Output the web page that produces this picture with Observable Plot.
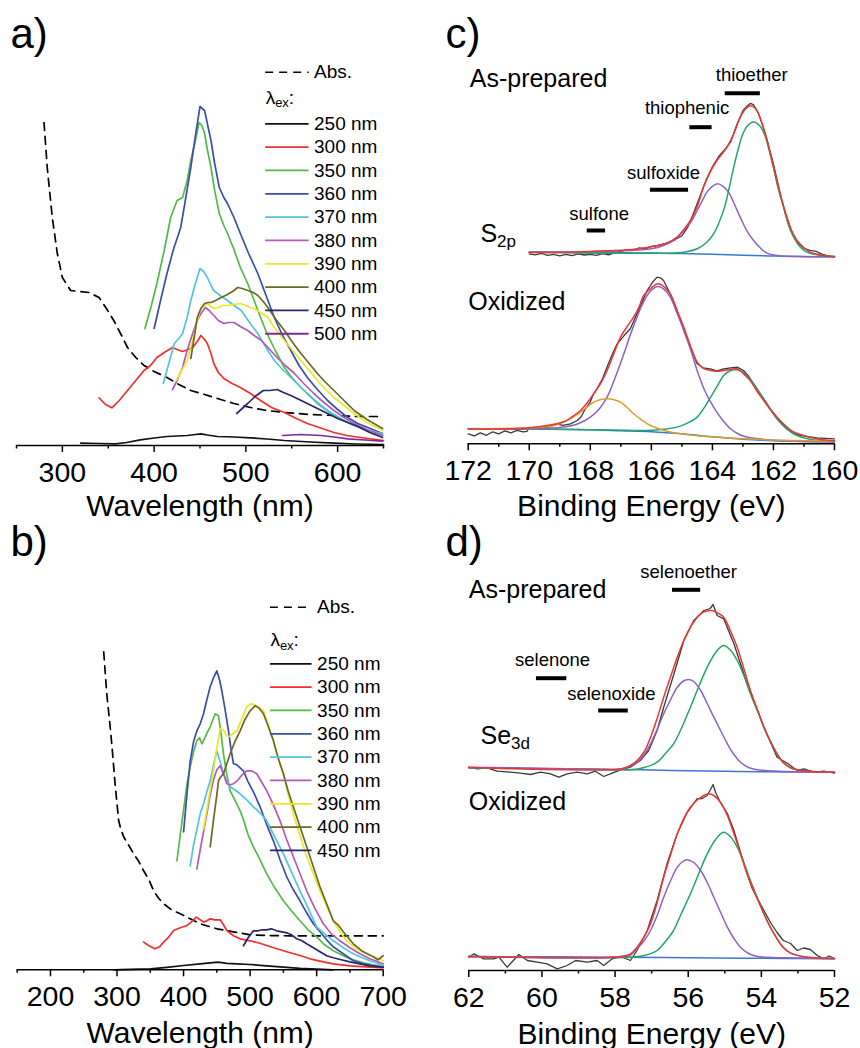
<!DOCTYPE html>
<html><head><meta charset="utf-8">
<script src="https://cdn.jsdelivr.net/npm/d3@7"></script>
<script src="https://cdn.jsdelivr.net/npm/@observablehq/plot@0.6"></script>
<style>
body{margin:0;background:#fff;}
#fig{position:relative;width:860px;height:1048px;overflow:hidden;background:#fff;}
#fig svg{position:absolute;}
</style></head><body><div id="fig"></div>
<script>
// ---------------- Panel a: PL spectra (wavelength nm, intensity a.u.) ----------------
const absA = [[280,323],[283.5,278],[289,228],[294.5,192],[300,168],[309,155],[319,154],[329,153],[340,148],[348,137],[356,125],[364,111],[371,98],[380,88],[389,80],[400,74],[414,68],[427,61],[440,55],[455,51],[469,47],[487,42],[505,38],[523,35],[542,33],[570,31],[596,30],[620,29],[645,29]];
const a250 = [[320,2.3],[340,2],[358,1.7],[370,3],[385,5.7],[400,7.5],[414,9],[425,9.5],[436,10],[445,11],[451,11.7],[458,10.5],[469,9],[487,8.5],[505,7.7],[523,6.5],[542,5],[570,3.5],[596,2.3],[620,1.5],[650,1]];
const a300 = [[340,47.7],[347,41],[354,37.7],[362,45],[371,55],[380,65],[389,75],[396,80],[403,88],[411,93],[420,98],[425,96],[431,94],[437,96],[442,98],[447,104],[451,110],[455,106],[458,102],[462,92],[465,82],[470,73],[476,67],[485,62],[494,58],[505,52],[516,45],[528,38],[542,33],[555,27],[567,22],[580,18],[596,13],[610,10],[625,8],[650,5]];
const a350 = [[390,117],[397,140],[403,162],[411,195],[418,228],[425,245],[431,248],[436,265],[440,285],[445,305],[449,323],[452,320],[455,312],[458,296],[462,278],[466,255],[471,232],[476,220],[480,212],[487,196],[494,178],[502,162],[509,145],[516,128],[523,112],[532,95],[542,78],[550,68],[560,58],[569,50],[578,42],[587,36],[596,30],[607,25],[618,20],[632,15],[649,10]];
const a360 = [[400,117],[407,145],[414,172],[421,196],[429,218],[434,245],[440,278],[445,310],[450,339],[455,335],[458,322],[462,305],[466,282],[471,258],[476,248],[480,242],[487,228],[494,212],[503,192],[513,172],[522,150],[531,128],[540,110],[549,95],[558,80],[567,68],[578,56],[589,45],[600,36],[611,28],[622,22],[633,18],[649,12]];
const a370 = [[410,62],[416,82],[422,102],[427,107],[431,112],[436,128],[440,145],[445,162],[450,177],[454,174],[458,168],[462,160],[465,155],[472,150],[480,145],[487,140],[495,135],[504,123],[513,112],[522,98],[531,85],[540,76],[549,68],[558,60],[567,52],[578,43],[589,35],[600,29],[611,23],[622,19],[633,15],[649,12]];
const a380 = [[420,56],[425,65],[431,78],[436,95],[442,112],[447,125],[451,132],[456,138],[460,135],[465,130],[470,125],[476,122],[481,123],[487,123],[494,119],[502,115],[509,110],[517,105],[525,97],[534,88],[543,80],[553,72],[563,62],[574,52],[585,43],[596,35],[607,28],[618,22],[632,16],[649,10]];
const a390 = [[424,65],[430,75],[436,85],[442,105],[447,125],[451,137],[455,140],[458,142],[462,139],[465,137],[470,138],[475,140],[480,140],[487,141],[494,142],[500,140],[505,138],[509,137],[516,133],[524,128],[532,117],[542,105],[551,95],[560,85],[569,75],[578,65],[587,56],[596,48],[607,40],[618,32],[632,23],[649,15]];
const a400 = [[440,87],[444,110],[447,128],[451,137],[455,142],[459,143],[462,143],[467,145],[473,148],[480,151],[487,155],[491,158],[496,157],[502,155],[508,153],[513,150],[518,145],[524,138],[532,127],[542,115],[551,103],[560,92],[569,82],[578,72],[587,63],[596,55],[607,45],[618,35],[632,26],[649,17]];
const a450 = [[490,32],[496,37],[502,42],[510,49],[519,55],[526,55],[534,56],[541,53],[549,50],[558,46],[567,42],[578,37],[589,32],[600,27],[611,23],[622,19],[635,13],[649,8]];
const a500 = [[540,10],[550,10.5],[560,11],[570,10.5],[582,10],[596,8.5],[611,6.7],[630,5.5],[649,4.3]];
const seriesA = [a250,a300,a350,a360,a370,a380,a390,a400,a450,a500];
const labelsA = ["250 nm","300 nm","350 nm","360 nm","370 nm","380 nm","390 nm","400 nm","450 nm","500 nm"];

// ---------------- Panel b ----------------
const absB = [[280,318],[282.5,295],[285,273],[289,248],[292.5,223],[297.5,183],[302.5,149],[306,140],[310,133],[318,124],[325,116],[333,108],[340,99],[348,90],[355,79],[362,72],[370,66],[382,60],[395,56],[410,51],[425,46],[450,41],[475,38],[500,35],[525,34.3],[560,34],[600,34],[650,34],[700,34]];
const b250 = [[295,0],[320,0.5],[350,1],[375,2.5],[400,4.3],[425,6],[440,7],[452,7.7],[465,6.5],[480,6],[500,5.3],[525,4],[550,2.7],[575,1.5],[600,0.7],[625,0]];
const b300 = [[340,27.7],[348,24],[357,21],[364,23],[370,27.7],[378,33],[385,39.3],[395,42],[405,44.3],[412,48],[419,52.7],[425,50],[430,47.7],[435,49],[440,51],[447,50],[455,50],[460,45],[465,39.3],[475,34],[485,31],[500,29],[512,27],[525,24.3],[540,21],[555,18],[575,14.3],[590,11],[610,8],[625,6],[650,4],[675,3],[700,2]];
const b350 = [[390,109],[395,135],[400,160],[405,185],[410,203],[415,218],[420,229],[424,232],[427.5,226],[432,232],[436,238],[440,243],[444,250],[447.5,256],[452.5,254],[456,238],[460,216],[465,195],[470,179],[477,170],[485,159],[490,150],[497,135],[505,123],[515,110],[525,96],[537,82],[550,69],[562,59],[575,49],[587,40],[600,33],[612,25],[625,19],[640,14],[655,10],[670,7],[685,5],[700,3]];
const b360 = [[400,138],[405,175],[410,209],[415,228],[420,239],[425,246],[430,256],[435,270],[440,283],[445,292],[450,299],[454,290],[457.5,279],[462,262],[467.5,239],[471,222],[475,206],[480,205],[485,202],[490,199],[497,188],[505,178],[515,163],[525,145],[535,129],[545,110],[555,93],[565,80],[575,69],[585,57],[595,46],[605,38],[615,30],[625,23],[640,16],[655,9],[670,6],[685,4],[700,2.7]];
const b370 = [[410,104],[415,125],[420,140],[425,156],[430,166],[435,178],[440,189],[445,205],[450,219],[455,208],[460,196],[465,189],[470,183],[477,180],[485,176],[495,170],[505,163],[515,157],[525,149],[537,133],[550,116],[562,98],[575,79],[587,62],[600,43],[612,36],[625,29],[640,22],[655,16],[665,13],[680,9],[700,4.3]];
const b380 = [[420,101],[425,120],[430,138],[435,156],[440,175],[445,190],[450,200],[455,204],[460,196],[465,186],[470,185],[475,186],[482,190],[488,195],[495,199],[502,199],[510,196],[517,188],[525,179],[535,165],[545,149],[555,130],[565,113],[575,96],[585,79],[597,62],[610,46],[622,36],[635,29],[650,22],[665,16],[680,11],[700,6]];
const b390 = [[430,141],[435,160],[440,180],[445,199],[450,222],[455,241],[460,240],[464,235],[467.5,233],[472,235],[476,237],[480,239],[487,250],[495,263],[501,266],[507.5,265],[513,262],[520,259],[527,245],[535,229],[542,212],[550,196],[557,176],[565,156],[575,134],[585,113],[595,96],[605,79],[615,64],[625,49],[635,38],[645,29],[660,21],[675,16],[690,12],[700,9]];
const b400 = [[440,123],[445,150],[450,175],[452.5,189],[456,193],[460,196],[465,206],[470,216],[477,228],[485,239],[492,250],[500,259],[507.5,264],[513,262],[520,256],[527,244],[535,229],[542,212],[550,196],[557,179],[565,163],[575,143],[585,123],[595,103],[605,83],[615,66],[625,49],[632,45],[640,38],[655,26],[670,18],[685,13],[692,10],[700,14]];
const b450 = [[490,24],[497,32],[505,39],[512,39],[518,40],[525,40],[532,41],[540,39],[548,38],[555,37],[562,35],[570,31],[578,29],[585,26],[595,22],[605,18],[615,14],[625,12],[637,10],[650,8],[665,6],[680,4],[700,2.7]];
const seriesB = [b250,b300,b350,b360,b370,b380,b390,b400,b450];
const labelsB = ["250 nm","300 nm","350 nm","360 nm","370 nm","380 nm","390 nm","400 nm","450 nm"];

const exColors = ["#111111","#f2302b","#55b848","#3a4fa8","#52c5dc","#b35ab8","#ece62a","#6b6a25","#27276f","#7b2a96"];

// ---------------- Panel c: S2p XPS (binding energy eV, counts a.u.) ----------------
const cAsBase = [[170,191.7],[168,191.3],[166,190.7],[165,190.2],[164,189.5],[163,188.6],[162,187.8],[161,187.3],[160,187]];
const cAsPurple = [[170,191.5],[168,192],[166.7,193.3],[166,195],[165.6,198.3],[165.2,205],[164.94,213.3],[164.7,222],[164.5,233.3],[164.3,245],[164.18,251.7],[164.0,257.5],[163.83,260],[163.65,257.5],[163.47,251.7],[163.3,241],[163.09,226.7],[162.87,213],[162.65,203.3],[162.4,195],[162.21,190.7],[161.8,188],[161.23,187.3],[160,187]];
const cAsGreen = [[170,191.5],[166,190.5],[165,191.3],[164.5,195],[164.2,201],[163.96,210],[163.8,220],[163.6,236.7],[163.45,256],[163.3,276.7],[163.15,295],[163.0,310],[162.85,318],[162.65,321.7],[162.45,318],[162.3,310],[162.15,295],[162.0,276.7],[161.85,256],[161.67,236.7],[161.5,218],[161.34,206.7],[161.1,196],[160.9,191.7],[160.5,188.5],[160,187.3]];
const cAsFit = [[170,191.2],[168.5,191.8],[167.8,192.7],[166.7,194],[166,197],[165.5,200.5],[165.16,206.7],[164.94,214],[164.72,223.3],[164.5,237],[164.29,256.7],[164.07,272],[163.85,283.3],[163.68,290],[163.52,296.7],[163.3,310],[163.15,322],[163.03,330],[162.88,336],[162.74,338],[162.6,335.5],[162.49,330],[162.35,318],[162.21,303.3],[162.05,283],[161.89,263.3],[161.72,243],[161.56,226.7],[161.4,213],[161.23,203.3],[161.0,196],[160.8,191.7],[160.4,188.5],[160,187.3]];
const cAsRaw = [[170,190],[169.8,189],[169.6,190.5],[169.4,188.5],[169.2,189.5],[169.0,188],[168.8,189.5],[168.6,188.2],[168.4,190],[168.2,188.8],[168.0,189.5],[167.8,188.5],[167.6,190.2],[167.4,189],[167.2,191],[167.0,192.5],[166.8,194],[166.6,193.5],[166.4,196],[166.2,195],[166.0,197.5],[165.8,198.5],[165.6,200],[165.4,201.5],[165.2,204.5],[165.0,208],[164.8,217],[164.6,232],[164.4,248],[164.2,264],[164.0,277],[163.8,287],[163.6,294],[163.4,302],[163.2,319],[163.0,333],[162.85,338],[162.75,340.5],[162.65,339],[162.5,331],[162.35,318],[162.2,303],[162.0,280],[161.8,253],[161.6,229],[161.4,212],[161.2,201],[161.0,195.5],[160.8,193.5],[160.6,192.5],[160.4,189.5],[160.2,188],[160,187]];
const cOxBase = [[172,15],[170,14.8],[168,14],[167,13],[166,12],[165,10],[164,7],[163,4.5],[162,3],[161,2.3],[160,2]];
const cOxOrange = [[172,15],[170,16],[169.2,18],[168.87,21.7],[168.6,26],[168.32,31.7],[168.1,37],[167.89,41.7],[167.65,44.3],[167.45,45],[167.25,44.3],[167.01,41.7],[166.8,36.5],[166.58,30],[166.3,23.5],[166.03,18.3],[165.7,14.5],[165.38,11.7],[164.8,9],[163.96,6.7],[162.3,4],[160,2.7]];
const cOxPurple = [[172,15],[169.5,15.5],[168.87,16.7],[168.4,20],[168.0,26.7],[167.7,35],[167.45,46.7],[167.2,65],[166.9,90],[166.7,108],[166.47,126.7],[166.3,139],[166.14,148.3],[165.95,155],[165.78,157.3],[165.6,155],[165.38,146.7],[165.15,130],[164.94,113.3],[164.7,93],[164.5,73.3],[164.25,53],[163.96,36.7],[163.7,25],[163.41,15],[163.1,9],[162.87,6.7],[162,3.5],[160,2]];
const cOxGreen = [[172,15],[169,14.5],[167.78,14],[166.8,13.5],[166.14,13.3],[165.6,14.5],[165.16,16.7],[164.8,21],[164.5,26.7],[164.25,37],[163.96,51.7],[163.8,60],[163.63,68.3],[163.45,72.5],[163.25,74],[163.05,72.5],[162.87,68.3],[162.65,60],[162.43,50],[162.15,37],[161.89,25],[161.55,14.5],[161.23,8.3],[160.8,4.5],[160,2]];
const cOxFit = [[172,15],[170,16],[168.87,22],[168.6,27],[168.32,33.3],[168.1,41],[167.89,50],[167.65,61],[167.45,73.3],[167.23,90],[167.01,106.7],[166.8,117],[166.58,126.7],[166.4,137],[166.25,148.3],[166.0,156],[165.78,160],[165.58,157],[165.38,150],[165.15,133],[164.94,116.7],[164.72,98],[164.5,81.7],[164.3,75.5],[164.07,73.3],[163.85,72.5],[163.63,73.3],[163.4,74.5],[163.19,75],[162.98,70],[162.76,63.3],[162.55,53],[162.32,43.3],[162.05,32],[161.78,23.3],[161.4,13],[161.01,8.3],[160.5,4.5],[160,3]];
const cOxRaw = [[172,10],[171.8,8],[171.6,11],[171.4,8.5],[171.2,12],[171.0,10],[170.8,13],[170.6,11],[170.4,13.5],[170.2,12],[170.07,12.5],[170.0,16.5],[169.8,15.5],[169.63,17.3],[169.41,16],[169.2,19],[169.09,20],[168.9,18.5],[168.65,20],[168.43,23.3],[168.3,27],[168.16,35],[168.0,42],[167.89,50],[167.78,55],[167.6,65],[167.45,76.7],[167.3,88],[167.12,100],[166.9,108],[166.69,115],[166.47,130],[166.3,142],[166.14,153.3],[165.95,162],[165.81,166.7],[165.7,166],[165.6,163.3],[165.38,150],[165.15,132],[164.94,115],[164.72,96],[164.5,80],[164.3,76],[164.07,75],[163.85,73],[163.63,75],[163.4,76],[163.19,76.7],[162.98,73.3],[162.8,67],[162.65,60],[162.5,53],[162.32,45],[162.1,35],[161.89,26.7],[161.7,20],[161.45,13.3],[161.2,9],[160.9,7.3],[160.58,6],[160.3,5.5],[160,5]];
const cBars = [{t:"thioether",x1:163.58,x2:162.43,lx:162.71},{t:"thiophenic",x1:164.74,x2:164.01,lx:164.83},{t:"sulfoxide",x1:166.03,x2:164.78,lx:165.6},{t:"sulfone",x1:168.1,x2:167.5,lx:167.71}];

// ---------------- Panel d: Se3d XPS ----------------
const dAsBase = [[62,202.7],[60,201.8],[58,201],[57,200.5],[56,199.8],[55,199.2],[54,198.8],[52,198.3]];
const dAsPurple = [[62,203.3],[60,202.3],[58.5,201.3],[57.94,200.7],[57.7,202.5],[57.4,208.3],[57.2,216],[57.03,226.7],[56.85,241],[56.67,256.7],[56.48,271],[56.3,283.3],[56.15,289],[56.0,291],[55.85,289],[55.66,280],[55.48,267],[55.3,253.3],[55.1,239],[54.93,226.7],[54.75,216],[54.57,208.3],[54.35,203],[54.11,200.7],[53.5,199.3],[52,198.3]];
const dAsGreen = [[62,202.5],[58,201],[57.58,200.7],[57.2,203],[56.85,208.3],[56.6,218],[56.4,226.7],[56.2,241],[55.94,263.3],[55.7,285],[55.48,303.3],[55.25,318],[55.04,325],[54.85,320.5],[54.66,310],[54.48,295],[54.3,276.7],[54.1,259],[53.93,243.3],[53.75,229],[53.57,216.7],[53.4,208],[53.2,202.7],[52.8,199.5],[52,198.3]];
const dAsFit = [[62,203],[58,201],[57.7,203],[57.4,210],[57.2,219],[57.03,233.3],[56.85,252],[56.67,273.3],[56.48,294],[56.3,313.3],[56.12,330],[55.94,343.3],[55.8,351],[55.66,356.7],[55.5,359.5],[55.35,360],[55.2,357.5],[55.03,353.3],[54.85,340],[54.66,323.3],[54.48,302],[54.3,280],[54.1,260],[53.93,243.3],[53.75,229],[53.57,216.7],[53.4,208],[53.2,202.7],[52.8,199.5],[52,198.3]];
const dAsRaw = [[62,203.3],[61.77,201.7],[61.5,202.7],[61.23,199.3],[60.86,198.3],[60.59,197.3],[60.31,196],[60.04,198.3],[59.77,196.7],[59.54,193.3],[59.31,196.7],[59.04,198.3],[58.76,196.7],[58.54,199.3],[58.31,194],[58.08,197.3],[57.85,200.7],[57.58,203.3],[57.31,210],[57.08,220],[56.85,240],[56.67,263.3],[56.39,296.7],[56.12,330],[55.85,350],[55.57,360],[55.4,362],[55.32,366],[55.21,355],[55.03,351.7],[54.75,326.7],[54.48,296.7],[54.21,270],[53.93,243.3],[53.57,213.3],[53.29,207.3],[53.02,200],[52.84,201.7],[52.56,198.3],[52.29,199.3],[52,197.3]];
const dOxBase = [[62,14],[58,13.3],[56,12.7],[54,12.2],[52,11.7]];
const dOxPurple = [[62,14],[58,13.3],[57.6,15],[57.4,21.7],[57.2,30],[57.03,40],[56.85,55],[56.67,73.3],[56.48,90],[56.3,103.3],[56.15,109],[56.03,110.7],[55.85,108],[55.66,100],[55.48,88],[55.3,73.3],[55.1,57],[54.93,43.3],[54.75,32],[54.57,23.3],[54.35,17],[54.11,14],[53,12.5],[52,11.7]];
const dOxGreen = [[62,14],[57.58,13.3],[57.2,15],[56.85,20],[56.6,30],[56.4,40],[56.2,56],[55.94,76.7],[55.7,98],[55.48,116.7],[55.25,131],[55.04,138.3],[54.85,134],[54.66,123.3],[54.48,108],[54.3,90],[54.1,72],[53.93,56.7],[53.75,43],[53.57,31.7],[53.4,23],[53.2,17.3],[52.8,13.5],[52,12]];
const dOxFit = [[62,14],[58,13.5],[57.6,16],[57.4,23.3],[57.2,34],[57.03,46.7],[56.85,68],[56.67,93.3],[56.48,116],[56.3,136.7],[56.12,152],[55.94,163.3],[55.7,172],[55.44,176.7],[55.3,175],[55.12,168.3],[54.93,155],[54.75,136.7],[54.57,117],[54.39,96.7],[54.15,75],[53.93,56.7],[53.75,43],[53.57,31.7],[53.4,23],[53.2,17.3],[52.8,13.5],[52,12]];
const dOxRaw = [[62,13.3],[61.86,16.7],[61.59,11.7],[61.32,11.7],[61.18,13.3],[60.95,3.3],[60.63,16],[60.4,10],[60.13,8.3],[59.86,6.7],[59.58,1.7],[59.31,5],[59.08,10],[58.76,8.3],[58.49,10],[58.31,5],[58.08,11.7],[57.85,14],[57.58,10],[57.4,20],[57.12,40],[56.85,70],[56.58,106.7],[56.3,136.7],[56.03,158],[55.76,171.7],[55.62,172],[55.48,175],[55.39,181],[55.32,186],[55.25,178],[55.12,168],[54.93,157],[54.75,140],[54.57,118],[54.39,97],[54.25,82],[54.11,72],[53.93,60],[53.75,48],[53.57,38],[53.4,30],[53.2,27],[53.02,20],[52.84,22.5],[52.66,21],[52.47,15],[52.29,11.7],[52.15,14.5],[52,12]];
const dBars = [{t:"selenoether",x1:56.43,x2:55.66,lx:55.99},{t:"selenone",x1:60.15,x2:59.32,lx:59.71},{t:"selenoxide",x1:58.45,x2:57.64,lx:58.1}];

// ---------------- tick values ----------------
const ticksA = [300,400,500,600], minorA = [250,350,450,550,650];
const ticksB = [200,300,400,500,600,700], minorB = [150,250,350,450,550,650];
const ticksC = [172,170,168,166,164,162,160], minorC = [171,169,167,165,163,161];
const ticksD = [62,60,58,56,54,52], minorD = [61,59,57,55,53];

// ================= drawing =================
const FONT = "'Liberation Sans', Arial, Helvetica, sans-serif";
const XPS = {raw:"#3a3a3a", fit:"#ee3535", green:"#22a667", purple:"#8d63c2", base:"#3b78d2", orange:"#d8a22a"};

function line(data, stroke, extra = {}) {
  return Plot.line(data, {x: d => d[0], y: d => d[1], stroke, strokeWidth: 1.7, ...extra});
}
function fitLine(data, stroke) {
  return line(data, stroke, {curve: "catmull-rom", strokeWidth: 1.5});
}

function panel(o) {
  const yTop = o.height - o.mB;
  return Plot.plot({
    width: o.width, height: o.height,
    marginLeft: o.mL, marginRight: o.mR, marginTop: 0, marginBottom: o.mB,
    x: {domain: o.xDomain},
    y: {domain: [0, yTop], axis: null},
    style: {fontFamily: FONT, overflow: "visible", background: "transparent", color: "black"},
    marks: [
      ...o.marks,
      Plot.ruleY([0], {strokeWidth: 1.6}),
      Plot.axisX(o.majors, {tickSize: 7, label: null, strokeWidth: 1.5, tickFormat: () => ""}),
      Plot.axisX(o.minors, {tickSize: 3.5, label: null, strokeWidth: 1.5, tickFormat: () => ""}),
      Plot.text(o.majors, {x: d => d, text: d => String(d), frameAnchor: "bottom", dy: 27, fontSize: 28.5, lineAnchor: "middle"}),
      Plot.text([o.title], {frameAnchor: "bottom", dy: o.titleDy, fontSize: 30, lineAnchor: "bottom"}),
      Plot.text([o.label], {frameAnchor: "top-left", dx: o.labelX - o.mL, dy: o.labelBase, fontSize: 42, textAnchor: "start", lineAnchor: "bottom"})
    ]
  });
}

function legendMarks(labels, colors, L) {
  const rows = labels.map((t, i) => ({t, c: colors[i], y: L.y0 - i * L.step, x1: L.x1, x2: L.x2, xt: L.xt}));
  const abs = [{t: "Abs.", y: L.absY, x1: L.x1, x2: L.x2, xt: L.xt}];
  const lam = [{t: "λ{ex}:", y: L.lamY, x: L.x1}];
  return [
    Plot.ruleY(abs, {y: "y", x1: "x1", x2: "x2", stroke: "black", strokeWidth: 1.6, strokeDasharray: "8,6"}),
    Plot.text(abs, {x: "xt", y: "y", text: "t", textAnchor: "start", lineAnchor: "middle", fontSize: 19}),
    Plot.text(lam, {x: "x", y: "y", text: "t", textAnchor: "start", lineAnchor: "middle", fontSize: 19}),
    Plot.ruleY(rows, {y: "y", x1: "x1", x2: "x2", stroke: "c", strokeWidth: 1.8}),
    Plot.text(rows, {x: "xt", y: "y", text: "t", textAnchor: "start", lineAnchor: "middle", fontSize: 19})
  ];
}

function finish(svg) {
  d3.select(svg).selectAll("text").each(function() {
    const m = /^(.*)\{(.*)\}(.*)$/.exec(this.textContent);
    if (!m) return;
    this.textContent = "";
    const s = d3.select(this);
    s.append("tspan").text(m[1]);
    s.append("tspan").attr("dy", "0.3em").attr("font-size", "68%").text(m[2]);
    if (m[3]) s.append("tspan").attr("dy", "-0.204em").text(m[3]);
  });
}

// ---- a ----
const pa = panel({
  width: 430, height: 520, mL: 16, mR: 47, mB: 75, xDomain: [250, 650],
  majors: ticksA, minors: minorA, title: "Wavelength (nm)", titleDy: 70, label: "a)", labelX: 10, labelBase: 47,
  marks: [
    line(absA, "black", {strokeDasharray: "8,6"}),
    ...seriesA.map((s, i) => line(s, exColors[i])),
    ...legendMarks(labelsA, exColors, {x1: 521.6, x2: 568.9, xt: 574.3, absY: 373.3, lamY: 348, y0: 321.7, step: 23.33})
  ]
});
// ---- b ----
const pb = panel({
  width: 430, height: 528, mL: 16.7, mR: 47.3, mB: 78.7, xDomain: [150, 700],
  majors: ticksB, minors: minorB, title: "Wavelength (nm)", titleDy: 72.7, label: "b)", labelX: 10, labelBase: 35,
  marks: [
    line(absB, "black", {strokeDasharray: "8,6"}),
    ...seriesB.map((s, i) => line(s, exColors[i])),
    ...legendMarks(labelsB, exColors, {x1: 530.5, x2: 593.1, xt: 600.7, absY: 362.6, lamY: 330, y0: 306, step: 23.33})
  ]
});
// ---- c ----
const cTexts = [{t: "As-prepared", x: 171.95, y: 356.6}, {t: "S{2p}", x: 171.6, y: 201.6}, {t: "Oxidized", x: 172.0, y: 134}];
const cBarY = [350.6, 316.6, 254, 213.3], cLabY = [368.3, 335.9, 270.9, 229.9];
const cBarRows = cBars.map((b, i) => ({...b, y: cBarY[i], ly: cLabY[i]}));
const pc = panel({
  width: 430, height: 520, mL: 37.7, mR: 26, mB: 76.7, xDomain: [172, 160],
  majors: ticksC, minors: minorC, title: "Binding Energy (eV)", titleDy: 71.7, label: "c)", labelX: 15, labelBase: 47,
  marks: [
    line(cAsRaw, XPS.raw, {strokeWidth: 1.3}),
    fitLine(cAsBase, XPS.base),
    fitLine(cAsPurple, XPS.purple),
    fitLine(cAsGreen, XPS.green),
    fitLine(cAsFit, XPS.fit),
    line(cOxRaw, XPS.raw, {strokeWidth: 1.3}),
    fitLine(cOxBase, XPS.base),
    fitLine(cOxGreen, XPS.green),
    fitLine(cOxPurple, XPS.purple),
    fitLine(cOxOrange, XPS.orange),
    fitLine(cOxFit, XPS.fit),
    Plot.ruleY(cBarRows, {y: "y", x1: "x1", x2: "x2", strokeWidth: 4, stroke: "black"}),
    Plot.text(cBarRows, {x: "lx", y: "ly", text: "t", fontSize: 18.5, lineAnchor: "middle"}),
    Plot.text(cTexts, {x: "x", y: "y", text: "t", fontSize: 25, textAnchor: "start", lineAnchor: "bottom"})
  ]
});
// ---- d ----
const dTexts = [{t: "As-prepared", x: 62.0, y: 372.7}, {t: "Se{3d}", x: 61.68, y: 226.7}, {t: "Oxidized", x: 62.0, y: 160.7}];
const dBarY = [380.7, 292.3, 260], dLabY = [398.6, 310.9, 276.6];
const dBarRows = dBars.map((b, i) => ({...b, y: dBarY[i], ly: dLabY[i]}));
const pd = panel({
  width: 430, height: 528, mL: 38.3, mR: 26, mB: 78, xDomain: [62, 52],
  majors: ticksD, minors: minorD, title: "Binding Energy (eV)", titleDy: 73, label: "d)", labelX: 15, labelBase: 35,
  marks: [
    line(dAsRaw, XPS.raw, {strokeWidth: 1.3}),
    fitLine(dAsBase, XPS.base),
    fitLine(dAsGreen, XPS.green),
    fitLine(dAsPurple, XPS.purple),
    fitLine(dAsFit, XPS.fit),
    line(dOxRaw, XPS.raw, {strokeWidth: 1.3}),
    fitLine(dOxBase, XPS.base),
    fitLine(dOxGreen, XPS.green),
    fitLine(dOxPurple, XPS.purple),
    fitLine(dOxFit, XPS.fit),
    Plot.ruleY(dBarRows, {y: "y", x1: "x1", x2: "x2", strokeWidth: 4, stroke: "black"}),
    Plot.text(dBarRows, {x: "lx", y: "ly", text: "t", fontSize: 18.5, lineAnchor: "middle"}),
    Plot.text(dTexts, {x: "x", y: "y", text: "t", fontSize: 25, textAnchor: "start", lineAnchor: "bottom"})
  ]
});

const fig = document.getElementById("fig");
[[pa, 0, 0], [pb, 0, 520], [pc, 430, 0], [pd, 430, 520]].forEach(([svg, left, top]) => {
  finish(svg);
  svg.style.left = left + "px";
  svg.style.top = top + "px";
  fig.appendChild(svg);
});
</script>
</body></html>
